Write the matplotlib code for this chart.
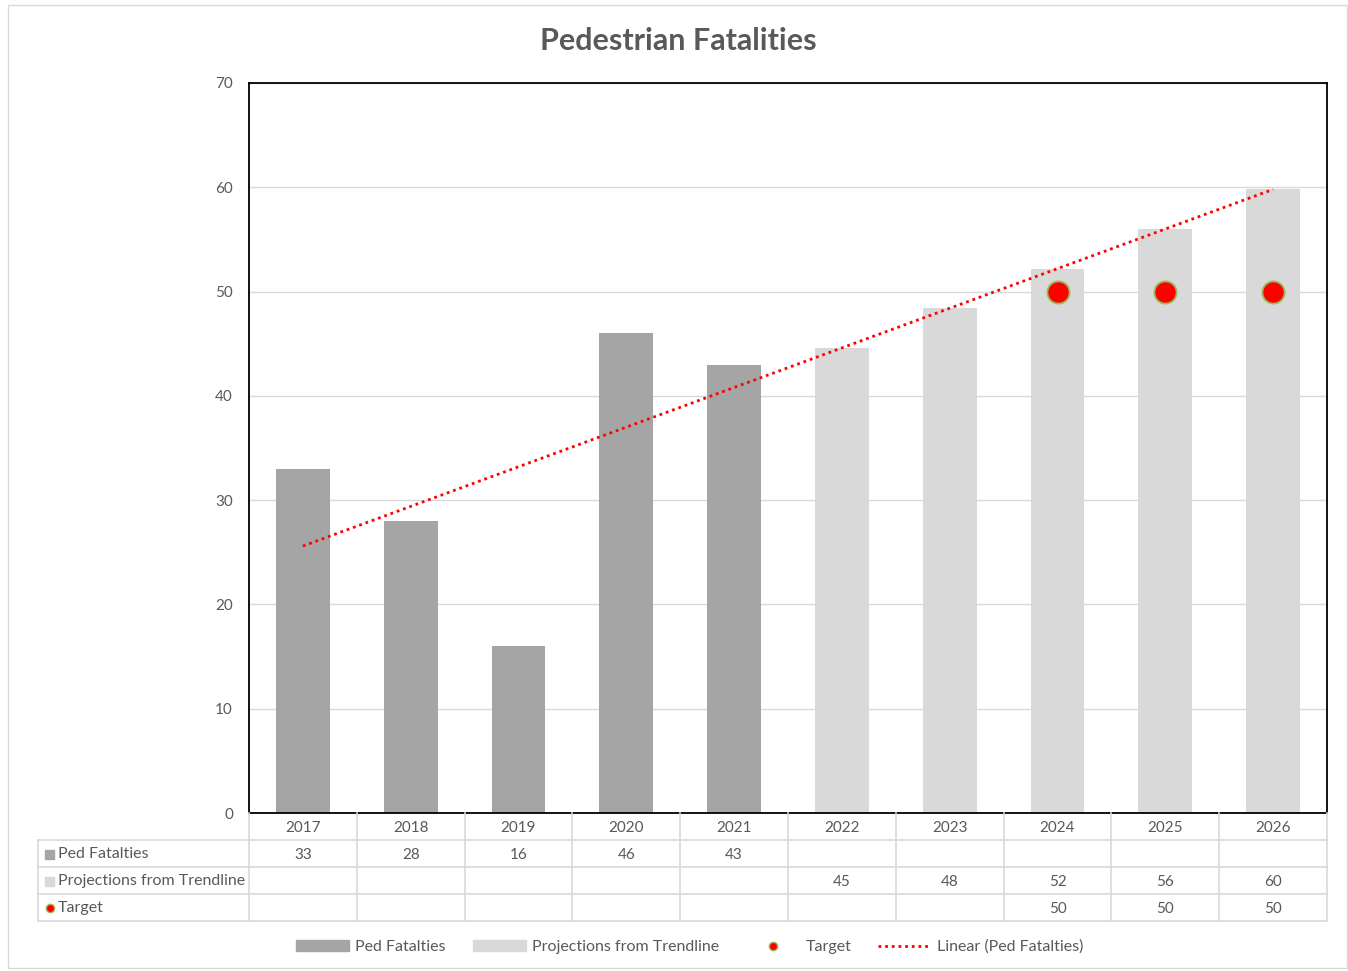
import matplotlib
matplotlib.use("Agg")
import matplotlib.pyplot as plt
from matplotlib.patches import Rectangle
from matplotlib.lines import Line2D
import numpy as np

# ---- data ----
years = ["2017", "2018", "2019", "2020", "2021", "2022", "2023", "2024", "2025", "2026"]
ped_fatalities = [33, 28, 16, 46, 43, None, None, None, None, None]
projections = [None, None, None, None, None, 44.6, 48.4, 52.2, 56.0, 59.8]
projection_labels = ["", "", "", "", "", "45", "48", "52", "56", "60"]
targets = [None, None, None, None, None, None, None, 50, 50, 50]
trend_ends = [25.6, 59.8]   # linear trendline values at 2017 and 2026
series_names = ["Ped Fatalties", "Projections from Trendline", "Target"]
trend_name = "Linear (Ped Fatalties)"
title = "Pedestrian Fatalities"

DARK = "#a5a5a5"
LIGHT = "#d9d9d9"
TXT = "#595959"
GRID = "#d9d9d9"
FONT = "Lato"

W, H = 1348, 971
fig = plt.figure(figsize=(W / 100, H / 100), dpi=100)
plt.rcParams["font.family"] = [FONT, "DejaVu Sans"]

def fx(px):
    return px / W

def fy(py):
    return 1 - py / H

# outer chart border
fig.patches.append(Rectangle((fx(8), fy(968)), fx(1347) - fx(8), fy(5) - fy(968),
                             transform=fig.transFigure, fill=False, edgecolor="#d9d9d9", lw=1))

# main axes
L, R, T, B = 249, 1327, 83, 813
ax = fig.add_axes([fx(L), fy(B), fx(R) - fx(L), fy(T) - fy(B)])
x = np.arange(len(years))
ax.set_xlim(-0.5, len(years) - 0.5)
ax.set_ylim(0, 70)
ax.set_yticks(range(0, 71, 10))
ax.tick_params(axis="y", length=0, pad=11.5, labelsize=11, labelcolor=TXT)
ax.tick_params(axis="x", length=0, labelbottom=False)
ax.yaxis.grid(True, color=GRID, lw=1)
ax.set_axisbelow(True)
for s in ax.spines.values():
    s.set_color("black")
    s.set_linewidth(1.3)

ped_vals = [v if v is not None else 0 for v in ped_fatalities]
proj_vals = [v if v is not None else 0 for v in projections]
ax.bar(x, ped_vals, width=0.5, color=DARK, zorder=2)
ax.bar(x, proj_vals, width=0.5, color=LIGHT, zorder=2)

tx = [x[i] for i, v in enumerate(targets) if v is not None]
ty = [v for v in targets if v is not None]
ax.plot(tx, ty, linestyle="none", marker="o", markersize=16, markerfacecolor="#ff0000",
        markeredgecolor="#9bbb59", markeredgewidth=1.3, zorder=4)

ax.plot([x[0], x[-1]], trend_ends, color="#ff0000", lw=2, linestyle=(0, (1, 1.4)), zorder=3)

fig.text(fx(678), fy(41), title, ha="center", va="center", fontsize=22,
         fontweight="bold", color=TXT)

# ---- data table ----
TL, TB = 38, 921
tax = fig.add_axes([fx(TL), fy(TB), fx(R) - fx(TL), fy(B) - fy(TB)])
colw = (R - L) / len(years)
left_units = (L - TL) / colw
tax.set_xlim(-0.5 - left_units, len(years) - 0.5)
tax.set_ylim(0, 4)
tax.axis("off")
lk = dict(color=GRID, lw=1.2, clip_on=False)
# verticals
for k in range(len(years) + 1):
    tax.plot([k - 0.5, k - 0.5], [0, 4], **lk)
tax.plot([-0.5 - left_units] * 2, [0, 3], **lk)
for r in [0, 1, 2, 3]:
    tax.plot([-0.5 - left_units, len(years) - 0.5], [r, r], **lk)

for i, yv in enumerate(years):
    tax.text(i, 3.45, yv, ha="center", va="center", fontsize=11, color=TXT)
for i, v in enumerate(ped_fatalities):
    if v is not None:
        tax.text(i, 2.45, f"{v:g}", ha="center", va="center", fontsize=11, color=TXT)
for i, s in enumerate(projection_labels):
    if s:
        tax.text(i, 1.45, s, ha="center", va="center", fontsize=11, color=TXT)
for i, v in enumerate(targets):
    if v is not None:
        tax.text(i, 0.45, f"{v:g}", ha="center", va="center", fontsize=11, color=TXT)

# row headers
row_y = [2.5, 1.5, 0.5]
key_x = (45 - TL) / colw - 0.5 - left_units
txt_x = (58 - TL) / colw - 0.5 - left_units
sq_w = 9 / colw
sq_h = 9 / 27
for name, ry, col in zip(series_names[:2], row_y[:2], [DARK, LIGHT]):
    tax.add_patch(Rectangle((key_x, ry - sq_h / 2 - 0.05), sq_w, sq_h, color=col, clip_on=False))
for name, ry in zip(series_names, row_y):
    tax.text(txt_x, ry, name, ha="left", va="center", fontsize=11.5, color=TXT, zorder=5)
tax.plot([key_x + sq_w / 2], [row_y[2] - 0.03], marker="o", markersize=6, markerfacecolor="#ff0000",
         markeredgecolor="#9bbb59", markeredgewidth=1, clip_on=False)

# ---- legend ----
handles = [
    Rectangle((0, 0), 1, 1, color=DARK),
    Rectangle((0, 0), 1, 1, color=LIGHT),
    Line2D([], [], linestyle="none", marker="o", markersize=6, markerfacecolor="#ff0000",
           markeredgecolor="#9bbb59", markeredgewidth=1),
    Line2D([], [], color="#ff0000", lw=2, linestyle=(0, (1, 1.4))),
]
labels = series_names + [trend_name]
fig.legend(handles, labels, loc="center", bbox_to_anchor=(fx(690), fy(947)), ncol=4,
           frameon=False, fontsize=11.5, labelcolor=TXT, handlelength=3.3, handleheight=0.7,
           columnspacing=1.7, handletextpad=0.4)

fig.savefig("out.png", dpi=100)
